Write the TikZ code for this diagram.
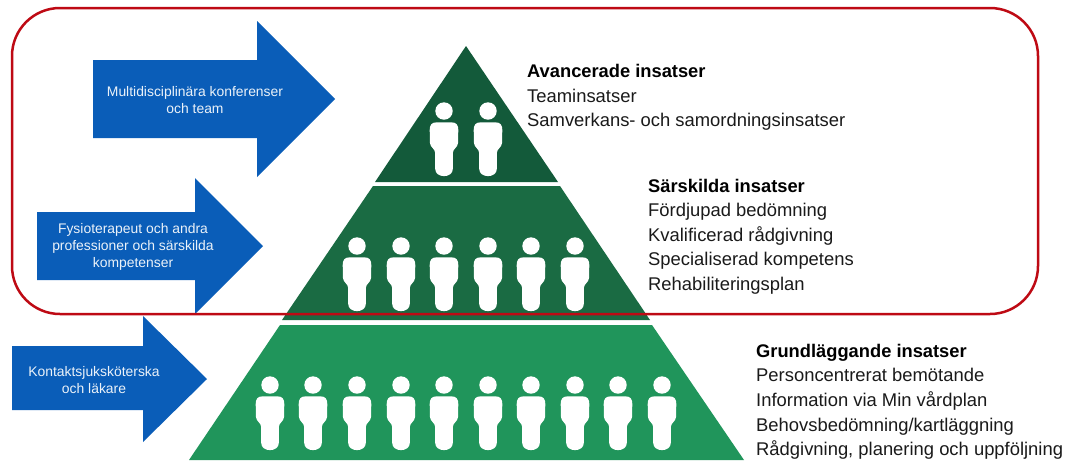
\documentclass[tikz,border=0pt]{standalone}
\usepackage{fontspec}
\setmainfont{Liberation Sans}
\definecolor{blueA}{HTML}{0A5DB8}
\definecolor{redA}{HTML}{BE0A14}
\definecolor{greenA}{HTML}{135A3A}
\definecolor{greenB}{HTML}{1A6B43}
\definecolor{greenC}{HTML}{20955B}
\definecolor{txt}{HTML}{1A1A1A}
\tikzset{
  x=1pt,y=-1pt,
  blockarrow/.style={fill=blueA,draw=none},
  arrowtext/.style={text=blueA!8!white,font=\fontsize{13.9}{17}\selectfont,align=center,inner sep=0pt},
  listhead/.style={anchor=base west,inner sep=0pt,text=black,font=\fontsize{18.3}{20}\selectfont\bfseries},
  listitem/.style={anchor=base west,inner sep=0pt,text=txt,font=\fontsize{18.4}{20}\selectfont},
  person/.pic={
    \fill[white] (0,0) circle (8.7);
    \fill[white] (-7,11.3) .. controls (-12.5,11.3) and (-14.3,14) .. (-14.3,19)
      -- (-14,32) .. controls (-13.8,36.5) and (-9,37.5) .. (-8.8,42) -- (-8.8,58)
      .. controls (-8.8,67.5) and (8.8,67.5) .. (8.8,58)
      -- (8.8,42) .. controls (9,37.5) and (13.8,36.5) .. (14,32) -- (14.3,19)
      .. controls (14.3,14) and (12.5,11.3) .. (7,11.3) -- cycle;
  },
}
\begin{document}
\begin{tikzpicture}
\useasboundingbox (0,0) rectangle (1068,461);
\fill[white] (0,0) rectangle (1068,461);
% arrows
\fill[blockarrow] (93,60) -- (257,60) -- (257,21) -- (335,99) -- (257,177) -- (257,138) -- (93,138) -- cycle;
\fill[blockarrow] (37,212) -- (195,212) -- (195,178) -- (263,246) -- (195,314) -- (195,280) -- (37,280) -- cycle;
\fill[blockarrow] (12,346) -- (143,346) -- (143,316) -- (207,379) -- (143,442) -- (143,410) -- (12,410) -- cycle;
\node[arrowtext] (a1) at (195,100) {Multidisciplinära konferenser\\och team};
\node[arrowtext] (a2) at (133,247) {Fysioterapeut och andra\\professioner och särskilda\\kompetenser};
\node[arrowtext] (a3) at (94,380) {Kontaktsjuksköterska\\och läkare};
% pyramid
\fill[greenA] (466,46) -- (558,182) -- (375,182) -- cycle;
\fill[greenB] (373,186) -- (560,186) -- (650,320) -- (282,320) -- cycle;
\fill[greenC] (280,325) -- (652,325) -- (744,460) -- (189,460) -- cycle;
% people
\foreach \px in {444,488} \pic at (\px,111) {person};
\foreach \px in {357,401,444,488,531,575} \pic at (\px,246) {person};
\foreach \px in {270,313,357,401,444,488,531,575,618,662} \pic at (\px,385) {person};
% lists
\node[listhead] (h1) at (527,77) {Avancerade insatser};
\node[listitem] (t11) at (527,102) {Teaminsatser};
\node[listitem] (t12) at (527,126.5) {Samverkans- och samordningsinsatser};
\node[listhead] (h2) at (648,192) {Särskilda insatser};
\node[listitem] (t21) at (648,216.7) {Fördjupad bedömning};
\node[listitem] (t22) at (648,241) {Kvalificerad rådgivning};
\node[listitem] (t23) at (648,265.7) {Specialiserad kompetens};
\node[listitem] (t24) at (648,290) {Rehabiliteringsplan};
\node[listhead] (h3) at (756,357) {Grundläggande insatser};
\node[listitem] (t31) at (756,381.5) {Personcentrerat bemötande};
\node[listitem] (t32) at (756,406) {Information via Min vårdplan};
\node[listitem] (t33) at (756,431) {Behovsbedömning/kartläggning};
\node[listitem] (t34) at (756,455.6) {Rådgivning, planering och uppföljning};
% frame
\draw[redA,line width=2.5pt,rounded corners=48pt] (12,8) rectangle (1038,314);
\end{tikzpicture}
\end{document}
